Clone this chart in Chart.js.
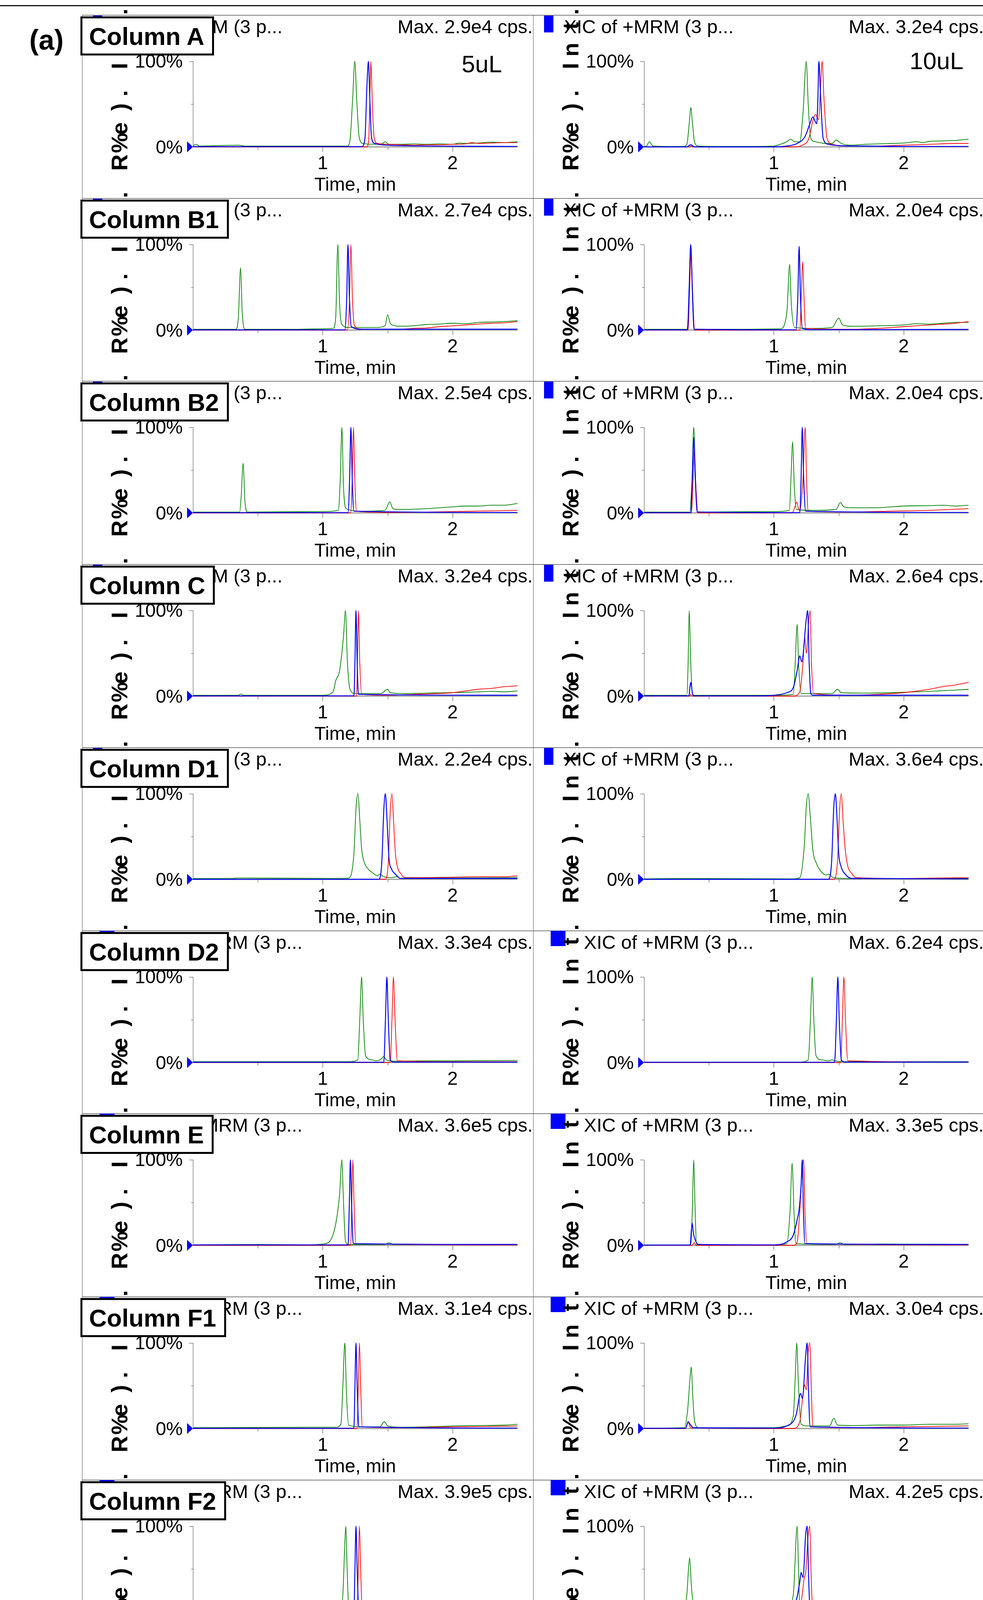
<!DOCTYPE html>
<html>
<head>
<meta charset="utf-8">
<script src="https://cdn.jsdelivr.net/npm/chart.js@4.4.1/dist/chart.umd.min.js"></script>
<style>
html, body { margin: 0; padding: 0; background: #fff; }
body { width: 2517px; height: 5685px; position: relative; overflow: hidden; font-family: "Liberation Sans", Arial, sans-serif; }
.hl { position: absolute; height: 2px; background: #7a7a7a; }
.vl { position: absolute; width: 1px; background: #555; }
.box { position: absolute; left: 206px; height: 100px; box-sizing: border-box; border: 5px solid #000; background: #fff;
       font-weight: bold; font-size: 63px; line-height: 88px; padding: 2px 20px 0 17px; white-space: nowrap; z-index: 5; }
.tag { position: absolute; font-weight: bold; line-height: 1; z-index: 5; }
canvas { position: absolute; }
</style>
</head>
<body>
<div style="position:absolute;left:0;top:13px;width:2517px;height:3px;background:#111"></div>
<script>
// texte des panneaux
const columnNames = ['Column A', 'Column B1', 'Column B2', 'Column C', 'Column D1', 'Column D2',
                     'Column E', 'Column F1', 'Column F2', 'Column F3', 'Column D1', 'Column D2'];
const maxLeft  = ['2.9e4', '2.7e4', '2.5e4', '3.2e4', '2.2e4', '3.3e4', '3.6e5', '3.1e4', '3.9e5', '3.9e5', '7.3e4', '1.3e5'];
const maxRight = ['3.2e4', '2.0e4', '2.0e4', '2.6e4', '3.6e4', '6.2e4', '3.3e5', '3.0e4', '4.2e5', '3.3e5', '2.3e5', '3.6e5'];
const xicTitle = 'XIC of +MRM (3 p...';
const xTicks = [0.5, 1, 1.5, 2];
const xTickLabels = [1, 2];
const yTickLabels = ['0%', '100%'];
const yTitleChars = ['R', '%', 'e', ')', '.', 'I', 'n', 't', '.'];

// chromatogrammes : [temps (min), intensite relative (%)]
const A_L_g = [[0,1],[0.02,3],[0.05,1],[0.35,2],[0.4,1],[1.0,1],[1.19,1],[1.21,8],[1.23,55],[1.247,100],[1.262,55],[1.28,12],[1.31,4],[1.4,3],[1.46,4],[1.48,6],[1.51,3],[1.6,3],[1.7,3.5],[1.8,3],[1.9,3.5],[2.0,3],[2.05,4.5],[2.1,4],[2.2,4.5],[2.3,5.5],[2.4,5],[2.5,6]];
const A_L_b = [[0,0.3],[1.3,0.3],[1.325,10],[1.34,70],[1.352,100],[1.362,60],[1.375,12],[1.4,4],[1.5,2],[1.7,1.2],[2.0,0.8],[2.5,0.5]];
const A_L_r = [[0,0],[1.34,0],[1.355,12],[1.365,70],[1.371,100],[1.38,60],[1.395,12],[1.42,4],[1.5,3],[1.6,2.5],[1.7,2],[1.8,2.5],[1.9,2.5],[2.0,3],[2.1,3.5],[2.15,5],[2.2,4],[2.3,4.5],[2.4,5],[2.5,5]];
const A_R_g = [[0,0.5],[0.02,1],[0.04,6],[0.07,1],[0.3,0.5],[0.33,3],[0.35,30],[0.361,46],[0.372,30],[0.39,5],[0.42,1],[0.7,0.5],[1.0,1],[1.05,3],[1.1,6],[1.13,9],[1.16,6],[1.2,6],[1.225,40],[1.25,100],[1.265,50],[1.285,10],[1.32,6],[1.4,4],[1.45,4],[1.48,8],[1.52,4],[1.6,2],[1.7,3],[1.8,3.5],[1.9,4],[2.0,4.5],[2.1,6],[2.15,5],[2.2,6.5],[2.3,7],[2.4,7.5],[2.5,9]];
const A_R_b = [[0,0],[0.33,0],[0.36,2.5],[0.39,0],[1.0,0],[1.1,1],[1.18,4],[1.24,12],[1.28,28],[1.30,35],[1.33,27],[1.34,60],[1.347,100],[1.36,60],[1.38,10],[1.42,3],[1.5,1.5],[1.7,1],[2.0,0.5],[2.5,0.5]];
const A_R_r = [[0,0],[0.35,0],[0.36,1],[0.38,0],[1.15,0],[1.22,2],[1.27,10],[1.30,30],[1.32,38],[1.345,32],[1.36,70],[1.373,100],[1.385,60],[1.41,10],[1.45,3],[1.6,1],[1.8,1],[2.0,2],[2.2,3],[2.4,4],[2.5,4]];

const B1_L_g = [[0,1],[0.33,1],[0.35,15],[0.367,73],[0.38,20],[0.4,1],[0.8,1],[1.0,1.5],[1.08,2],[1.1,15],[1.116,100],[1.13,30],[1.15,6],[1.2,3],[1.4,3],[1.48,5],[1.5,18],[1.52,8],[1.56,5],[1.6,4.5],[1.7,5],[1.8,6.5],[1.9,7],[2.0,8],[2.1,7.5],[2.2,9],[2.3,9.5],[2.4,10],[2.5,11]];
const B1_L_b = [[0,0.3],[1.17,0.3],[1.185,40],[1.194,100],[1.205,40],[1.22,4],[1.3,1],[2.5,1]];
const B1_L_r = [[0,0],[1.19,0],[1.205,30],[1.217,100],[1.228,40],[1.245,5],[1.3,1],[1.6,1],[1.7,2],[1.8,2.5],[1.9,4],[2.0,5],[2.1,6],[2.2,7],[2.3,8],[2.4,8.5],[2.5,10]];
const B1_R_g = [[0,1],[0.33,1],[0.345,30],[0.36,100],[0.375,30],[0.39,1],[0.8,1],[1.05,1.5],[1.1,20],[1.122,77],[1.135,30],[1.16,3],[1.3,2],[1.45,3],[1.5,14],[1.53,6],[1.6,4.5],[1.8,5],[2.0,6],[2.1,7.5],[2.2,7],[2.3,8],[2.4,9],[2.5,9]];
const B1_R_b = [[0,0.3],[0.335,0.3],[0.348,50],[0.36,100],[0.372,50],[0.385,1],[1.17,0.3],[1.185,40],[1.195,98],[1.205,40],[1.22,2],[1.3,0.5],[2.5,0.8]];
const B1_R_r = [[0,0],[0.34,0],[0.35,40],[0.362,90],[0.375,40],[0.39,0],[1.2,0],[1.212,40],[1.222,80],[1.232,40],[1.245,2],[1.6,1],[1.8,2],[2.0,4],[2.2,6],[2.4,8],[2.5,10]];

const B2_L_g = [[0,1],[0.36,1],[0.372,20],[0.387,58],[0.4,15],[0.42,1],[1.0,1.5],[1.12,3],[1.135,40],[1.147,100],[1.16,30],[1.18,5],[1.3,2],[1.48,3],[1.517,13],[1.54,5],[1.6,4],[1.8,5],[2.0,7],[2.1,8],[2.2,8],[2.3,9],[2.4,9],[2.5,11]];
const B2_L_b = [[0,0.3],[1.195,0.3],[1.207,40],[1.217,100],[1.227,40],[1.24,2],[2.5,0.5]];
const B2_L_r = [[0,0],[1.215,0],[1.227,40],[1.237,100],[1.247,40],[1.26,2],[1.5,0.5],[2.0,1.5],[2.5,3]];
const B2_R_g = [[0,1],[0.35,1],[0.37,40],[0.383,100],[0.397,40],[0.41,1],[1.0,1.5],[1.12,3],[1.132,40],[1.145,83],[1.158,30],[1.175,4],[1.3,3],[1.48,4],[1.513,12],[1.54,7],[1.6,6],[1.8,6],[1.9,7],[2.0,8],[2.2,8.5],[2.3,9],[2.4,8],[2.5,9]];
const B2_R_b = [[0,0.3],[0.36,0.3],[0.372,40],[0.383,88],[0.395,40],[0.41,1],[1.2,0.3],[1.21,40],[1.219,100],[1.23,40],[1.245,2],[2.5,0.5]];
const B2_R_r = [[0,0],[0.365,0],[0.377,35],[0.387,74],[0.4,30],[0.415,0],[1.14,0],[1.165,8],[1.176,13],[1.19,5],[1.2,3],[1.225,40],[1.242,100],[1.252,40],[1.265,2],[1.6,1],[1.9,2],[2.2,3],[2.5,5]];

const C_L_g = [[0,1],[0.35,1],[0.37,2.5],[0.39,1],[1.0,1],[1.08,5],[1.1,18],[1.13,30],[1.16,70],[1.175,100],[1.19,40],[1.21,8],[1.25,3],[1.45,3],[1.498,8],[1.52,4],[1.6,3],[1.8,3.5],[2.0,4],[2.2,5],[2.3,5.5],[2.4,5],[2.5,6]];
const C_L_b = [[0,0.3],[1.24,0.3],[1.248,40],[1.256,100],[1.265,40],[1.275,2],[2.5,1]];
const C_L_r = [[0,0],[1.26,0],[1.267,40],[1.275,100],[1.285,40],[1.3,2],[1.5,1],[1.7,2],[1.9,3],[2.0,4],[2.1,6],[2.2,8],[2.3,9],[2.4,11],[2.5,12]];
const C_R_g = [[0,1],[0.33,1],[0.34,40],[0.348,100],[0.36,40],[0.375,1],[1.0,1],[1.15,2],[1.165,40],[1.18,84],[1.19,40],[1.21,3],[1.45,3],[1.49,8],[1.52,4],[1.7,3.5],[1.9,4],[2.0,4.5],[2.2,5.5],[2.4,7],[2.5,8]];
const C_R_b = [[0,0.3],[0.345,0.3],[0.36,16],[0.375,2],[0.39,0.3],[0.9,0.3],[1.0,1],[1.1,4],[1.15,10],[1.18,30],[1.2,47],[1.215,40],[1.25,90],[1.261,100],[1.272,40],[1.285,3],[1.3,1],[2.5,1]];
const C_R_r = [[0,0],[0.35,0],[0.36,2],[0.37,0],[1.15,0],[1.2,5],[1.225,40],[1.238,69],[1.25,50],[1.27,90],[1.28,100],[1.29,40],[1.305,3],[1.6,1],[1.8,2],[2.0,4],[2.2,8],[2.3,11],[2.4,13],[2.5,16]];

const D1_L_g = [[0,1],[0.3,1],[0.35,1.5],[1.15,1],[1.2,1.5],[1.24,30],[1.257,85],[1.272,100],[1.285,70],[1.3,35],[1.32,20],[1.35,12],[1.39,7],[1.42,4],[1.44,6],[1.47,3],[1.53,2],[1.57,3],[1.6,1],[1.7,1.5],[2.0,1.5],[2.5,2]];
const D1_L_b = [[0,0],[1.43,0],[1.455,20],[1.47,80],[1.482,100],[1.495,70],[1.51,25],[1.53,12],[1.56,6],[1.6,1],[2.5,1]];
const D1_L_r = [[0,0],[1.48,0],[1.505,20],[1.52,80],[1.533,100],[1.545,70],[1.56,30],[1.58,12],[1.6,7],[1.63,2],[1.8,2],[2.0,2.5],[2.2,3],[2.4,3],[2.5,4]];
const D1_R_g = [[0,0.5],[0.3,1],[1.15,0.5],[1.2,2],[1.235,40],[1.25,85],[1.265,100],[1.28,75],[1.3,35],[1.33,18],[1.36,10],[1.4,5],[1.42,6],[1.46,2],[1.55,1],[2.5,1]];
const D1_R_b = [[0,0],[1.42,0],[1.445,20],[1.462,85],[1.474,100],[1.487,70],[1.5,30],[1.52,14],[1.55,6],[1.6,1],[2.5,0.5]];
const D1_R_r = [[0,0],[1.46,0],[1.49,20],[1.508,85],[1.52,100],[1.533,70],[1.55,35],[1.57,15],[1.6,7],[1.63,2],[2.0,1],[2.5,2]];

const D2_L_g = [[0,1],[1.2,1],[1.27,3],[1.285,50],[1.3,100],[1.312,50],[1.33,8],[1.38,3],[1.41,2],[1.45,4],[1.47,7],[1.49,3],[1.55,1.5],[1.8,2],[2.0,2],[2.5,2.5]];
const D2_L_b = [[0,0.3],[1.47,0.3],[1.483,50],[1.494,100],[1.505,50],[1.52,3],[1.55,0.5],[2.5,0.5]];
const D2_L_r = [[0,0],[1.52,0],[1.533,50],[1.545,100],[1.557,50],[1.575,2],[2.0,1],[2.5,1]];
const D2_R_g = [[0,0.5],[1.2,0.5],[1.265,3],[1.282,50],[1.296,100],[1.308,50],[1.325,8],[1.37,3],[1.42,2],[1.45,3],[1.47,2],[1.55,1],[2.5,1]];
const D2_R_b = [[0,0.3],[1.468,0.3],[1.482,50],[1.493,100],[1.504,50],[1.52,3],[1.55,0.5],[2.5,0.5]];
const D2_R_r = [[0,0],[1.515,0],[1.528,50],[1.54,100],[1.552,50],[1.57,2],[2.5,0.5]];

const E_L_g = [[0,0.5],[0.5,1],[0.9,0.5],[1.0,1.5],[1.05,4],[1.1,25],[1.13,60],[1.147,100],[1.16,50],[1.175,5],[1.2,1],[1.48,1],[1.51,3],[1.54,1],[2.5,1]];
const E_L_b = [[0,0.5],[1.195,0.5],[1.205,50],[1.213,100],[1.222,50],[1.235,2],[2.5,1]];
const E_L_r = [[0,0],[1.215,0],[1.224,50],[1.232,100],[1.241,50],[1.255,2],[2.5,0.5]];
const E_R_g = [[0,0.5],[0.36,0.5],[0.372,40],[0.383,100],[0.394,40],[0.405,1],[1.0,0.5],[1.1,2],[1.125,40],[1.141,96],[1.155,40],[1.17,2],[1.48,1],[1.51,3],[1.54,1],[1.83,1.5],[2.5,1]];
const E_R_b = [[0,0.3],[0.355,0.3],[0.365,18],[0.371,26],[0.38,15],[0.395,6],[0.42,1],[1.0,0.5],[1.1,4],[1.15,12],[1.18,30],[1.195,42],[1.21,70],[1.219,100],[1.228,40],[1.24,2],[2.5,1]];
const E_R_r = [[0,0],[0.37,0],[0.387,3],[0.4,0],[1.15,0],[1.18,4],[1.2,40],[1.215,80],[1.23,100],[1.24,40],[1.255,2],[2.5,0.5]];

const F1_L_g = [[0,1],[0.9,1.5],[1.1,1.5],[1.14,5],[1.155,50],[1.17,100],[1.183,40],[1.2,4],[1.3,2],[1.44,2],[1.475,8],[1.5,3],[1.6,1.5],[1.8,2],[2.0,3],[2.2,3.5],[2.4,4],[2.5,5]];
const F1_L_b = [[0,0.3],[1.24,0.3],[1.248,50],[1.256,100],[1.265,50],[1.278,2],[2.5,0.5]];
const F1_L_r = [[0,0],[1.265,0],[1.274,50],[1.283,100],[1.292,50],[1.305,2],[1.6,1],[2.0,2],[2.3,2.5],[2.5,3]];
const F1_R_g = [[0,0.5],[0.31,1],[0.335,20],[0.355,60],[0.364,72],[0.375,40],[0.39,8],[0.42,1],[1.0,1],[1.1,3],[1.15,15],[1.165,60],[1.176,100],[1.19,50],[1.21,5],[1.26,3],[1.43,3],[1.462,12],[1.49,4],[1.6,3.5],[1.8,4],[2.0,4],[2.2,5],[2.4,5],[2.5,5.5]];
const F1_R_b = [[0,0.3],[0.32,0.3],[0.34,8],[0.355,5],[0.38,1],[1.0,0.5],[1.1,3],[1.17,15],[1.207,41],[1.22,35],[1.245,85],[1.257,100],[1.268,40],[1.28,2],[2.5,0.5]];
const F1_R_r = [[0,0],[0.32,0],[0.34,7],[0.36,1],[1.15,0],[1.2,8],[1.225,40],[1.238,51],[1.25,45],[1.265,90],[1.277,100],[1.29,40],[1.3,2],[1.6,1],[2.0,2],[2.5,3]];

const F2_L_g = [[0,0.5],[1.13,0.5],[1.155,20],[1.17,80],[1.178,100],[1.188,50],[1.2,5],[1.22,1],[1.46,1],[1.48,4],[1.5,1],[2.5,1]];
const F2_L_b = [[0,0.5],[1.24,0.5],[1.248,50],[1.256,100],[1.265,50],[1.278,2],[2.5,0.5]];
const F2_L_r = [[0,0],[1.265,0],[1.274,50],[1.283,100],[1.292,50],[1.305,2],[2.5,0.5]];
const F2_R_g = [[0,0.5],[0.3,0.5],[0.33,20],[0.345,55],[0.352,63],[0.365,30],[0.385,5],[0.41,1],[0.9,1],[1.0,1.5],[1.1,3],[1.15,20],[1.18,100],[1.19,50],[1.2,5],[1.25,1],[1.45,1],[1.474,4],[1.5,1],[2.5,0.5]];
const F2_R_b = [[0,0.3],[0.33,0.3],[0.35,3],[0.37,1],[0.4,0.3],[1.0,0.5],[1.1,3],[1.17,12],[1.2,35],[1.21,46],[1.225,40],[1.245,90],[1.257,100],[1.268,40],[1.28,2],[2.5,0.5]];
const F2_R_r = [[0,0],[1.18,0],[1.21,10],[1.235,40],[1.245,45],[1.265,90],[1.277,100],[1.288,40],[1.3,2],[2.5,0.5]];

const F3_L_g = [[0,0.5],[0.35,0.5],[0.37,1.5],[0.39,0.5],[0.95,0.5],[1.0,2],[1.05,5],[1.08,12],[1.1,25],[1.108,60],[1.116,100],[1.125,40],[1.135,5],[1.15,1],[1.42,1],[1.45,3],[1.48,1],[2.5,1]];
const F3_L_b = [[0,0.5],[1.175,0.5],[1.183,50],[1.19,100],[1.198,50],[1.21,2],[2.5,1]];
const F3_L_r = [[0,0],[1.2,0],[1.206,50],[1.213,100],[1.221,50],[1.232,2],[2.5,0.5]];
const F3_R_g = [[0,0.5],[0.3,0.5],[0.32,10],[0.34,65],[0.352,84],[0.362,40],[0.38,5],[0.4,0.5],[1.0,0.5],[1.07,2],[1.095,30],[1.114,100],[1.125,40],[1.14,3],[1.2,0.5],[1.42,1],[1.45,3],[1.48,1],[2.5,1]];
const F3_R_b = [[0,0.3],[0.3,0.3],[0.315,10],[0.33,25],[0.345,15],[0.36,5],[0.38,1],[1.0,0.5],[1.07,4],[1.12,15],[1.153,38],[1.165,30],[1.19,80],[1.2,100],[1.21,40],[1.22,2],[2.5,0.5]];
const F3_R_r = [[0,0],[0.315,0],[0.337,10],[0.36,1],[1.1,0],[1.15,10],[1.17,30],[1.19,55],[1.207,100],[1.217,40],[1.228,2],[2.5,0.5]];

const bD1_L_g = [[0,0.5],[0.3,0.5],[0.35,1],[1.17,0.5],[1.21,5],[1.23,50],[1.247,100],[1.262,55],[1.28,18],[1.31,8],[1.33,5],[1.4,2],[1.43,2.5],[1.5,1],[1.56,0.5],[2.5,0.5]];
const bD1_L_b = [[0,0.3],[1.4,0.3],[1.43,20],[1.447,80],[1.459,100],[1.472,60],[1.49,20],[1.51,8],[1.54,3],[1.57,0.5],[2.5,0.5]];
const bD1_L_r = [[0,0],[1.45,0],[1.48,20],[1.497,80],[1.509,100],[1.522,60],[1.54,20],[1.56,8],[1.59,3],[1.62,0.5],[2.5,0.5]];
const bD1_R_g = [[0,0],[0.28,0],[0.31,2],[0.34,0],[1.2,0],[1.222,20],[1.237,80],[1.247,100],[1.258,60],[1.275,15],[1.3,5],[1.35,2],[1.45,1],[1.5,0.5],[2.5,0.3]];
const bD1_R_b = [[0,0.3],[1.41,0.3],[1.432,30],[1.447,90],[1.457,100],[1.468,60],[1.485,20],[1.505,6],[1.53,1],[2.5,0.3]];
const bD1_R_r = [[0,0],[1.46,0],[1.485,25],[1.5,90],[1.511,100],[1.522,60],[1.54,20],[1.56,6],[1.585,1],[2.5,0]];

const bD2_L_g = [[0,0],[1.25,0],[1.268,40],[1.282,100],[1.293,40],[1.31,4],[1.35,1],[1.45,1],[1.6,0.5],[2.5,1]];
const bD2_L_b = [[0,0.3],[1.455,0.3],[1.463,50],[1.471,100],[1.479,50],[1.49,2],[2.5,0.5]];
const bD2_L_r = [[0,0],[1.508,0],[1.516,50],[1.524,100],[1.532,50],[1.545,2],[2.5,0.5]];
const bD2_R_g = [[0,0],[0.28,0],[0.3,1],[0.32,0],[1.25,0],[1.266,40],[1.28,100],[1.291,40],[1.308,4],[1.35,1],[1.45,0.5],[2.5,0.5]];
const bD2_R_b = [[0,0.3],[1.46,0.3],[1.468,50],[1.476,100],[1.484,50],[1.495,2],[2.5,0.5]];
const bD2_R_r = [[0,0],[1.513,0],[1.521,50],[1.53,100],[1.538,50],[1.55,2],[2.5,0.5]];

// disposition
const rowTop = [39, 508, 976, 1445, 1914, 2383, 2851, 3320, 3789, 4258, 4765, 5233];
const panelLeft = [210, 1365];
const PW = 1155, PH = 488, OFF = 20;
const FONT = '"Liberation Sans", Arial, sans-serif';

const traces = [
  [A_L_g, A_L_b, A_L_r, A_R_g, A_R_b, A_R_r],
  [B1_L_g, B1_L_b, B1_L_r, B1_R_g, B1_R_b, B1_R_r],
  [B2_L_g, B2_L_b, B2_L_r, B2_R_g, B2_R_b, B2_R_r],
  [C_L_g, C_L_b, C_L_r, C_R_g, C_R_b, C_R_r],
  [D1_L_g, D1_L_b, D1_L_r, D1_R_g, D1_R_b, D1_R_r],
  [D2_L_g, D2_L_b, D2_L_r, D2_R_g, D2_R_b, D2_R_r],
  [E_L_g, E_L_b, E_L_r, E_R_g, E_R_b, E_R_r],
  [F1_L_g, F1_L_b, F1_L_r, F1_R_g, F1_R_b, F1_R_r],
  [F2_L_g, F2_L_b, F2_L_r, F2_R_g, F2_R_b, F2_R_r],
  [F3_L_g, F3_L_b, F3_L_r, F3_R_g, F3_R_b, F3_R_r],
  [bD1_L_g, bD1_L_b, bD1_L_r, bD1_R_g, bD1_R_b, bD1_R_r],
  [bD2_L_g, bD2_L_b, bD2_L_r, bD2_R_g, bD2_R_b, bD2_R_r]
];

// etiquettes de volume : [rang, cote, texte, x, ligne de base, gras]
const volumes = [
  [0, 0, '5uL', 972, 146, false], [0, 1, '10uL', 964, 138, false],
  [10, 0, '20uL', 885, 137, true], [10, 1, '50uL', 915, 137, true],
  [11, 0, '20uL', 898, 146, true], [11, 1, '50uL', 930, 134, true]
];
const yTitleOffsets = [377, 327, 290, 235, 200, 130, 88, 27, -9];

function addDiv(cls, css, html) {
  const d = document.createElement('div');
  d.className = cls;
  d.style.cssText = css;
  if (html) d.textContent = html;
  document.body.appendChild(d);
  return d;
}

// lignes du cadre
for (let i = 0; i < 12; i++) addDiv('hl', `left:210px;top:${rowTop[i] - 1}px;width:2310px`);
addDiv('hl', 'left:210px;top:4732px;width:2310px');
addDiv('vl', 'left:210px;top:39px;height:4694px');
addDiv('vl', 'left:1365px;top:39px;height:4694px');
addDiv('vl', 'left:210px;top:4765px;height:920px');
addDiv('vl', 'left:1365px;top:4765px;height:920px');

function decoPlugin(row, side) {
  const wide = row >= 5;
  const vol = volumes.find(v => v[0] === row && v[1] === side);
  return {
    id: 'deco' + row + side,
    beforeDatasetsDraw(chart) {
      const ctx = chart.ctx, xs = chart.scales.x, ys = chart.scales.y;
      const x0 = xs.getPixelForValue(0), x1 = xs.getPixelForValue(2.5);
      const y0 = ys.getPixelForValue(0), y100 = ys.getPixelForValue(100), y50 = ys.getPixelForValue(50);
      ctx.save();
      ctx.strokeStyle = '#9a9a9a'; ctx.lineWidth = 3;
      ctx.beginPath(); ctx.moveTo(x0, y0); ctx.lineTo(x1, y0); ctx.stroke();
      ctx.strokeStyle = '#444'; ctx.lineWidth = 1;
      ctx.beginPath(); ctx.moveTo(x0 + 0.5, y100); ctx.lineTo(x0 + 0.5, y0); ctx.stroke();
      ctx.beginPath(); ctx.moveTo(x0 - 10, y100 + 0.5); ctx.lineTo(x0, y100 + 0.5); ctx.stroke();
      ctx.beginPath(); ctx.moveTo(x0 - 5, y50 + 0.5); ctx.lineTo(x0, y50 + 0.5); ctx.stroke();
      xTicks.forEach(t => {
        const px = Math.round(xs.getPixelForValue(t)) + 0.5;
        const len = Number.isInteger(t) ? 13 : 8;
        ctx.beginPath(); ctx.moveTo(px, y0 + 1); ctx.lineTo(px, y0 + len); ctx.stroke();
      });
      ctx.restore();
    },
    afterDatasetsDraw(chart) {
      const ctx = chart.ctx, xs = chart.scales.x, ys = chart.scales.y;
      const x0 = xs.getPixelForValue(0);
      const y0 = ys.getPixelForValue(0), y100 = ys.getPixelForValue(100);
      ctx.save();
      // marqueur bleu
      ctx.fillStyle = '#0000ff';
      ctx.beginPath(); ctx.moveTo(x0 - 15, y0 - 14); ctx.lineTo(x0, y0); ctx.lineTo(x0 - 15, y0 + 14); ctx.closePath(); ctx.fill();
      if (wide) ctx.fillRect(45, OFF, 38, 39); else ctx.fillRect(28, OFF + 1, 24, 43);
      ctx.fillStyle = '#000';
      ctx.font = '48px ' + FONT;
      ctx.textBaseline = 'alphabetic';
      ctx.textAlign = 'right';
      ctx.fillText(yTickLabels[1], x0 - 26, y100 + 16);
      ctx.fillText(yTickLabels[0], x0 - 26, y0 + 17);
      ctx.textAlign = 'center';
      xTickLabels.forEach(t => ctx.fillText(String(t), xs.getPixelForValue(t), y0 + 57));
      ctx.fillText('Time, min', (chart.chartArea.left + chart.chartArea.right) / 2, y0 + 112);
      // en-tete
      ctx.font = '49px ' + FONT;
      ctx.textAlign = 'left';
      ctx.fillText(xicTitle, wide ? 130 : 79, OFF + 46);
      ctx.textAlign = 'right';
      ctx.fillText('Max. ' + (side ? maxRight[row] : maxLeft[row]) + ' cps.', PW - 1, OFF + 46);
      // titre vertical
      ctx.font = 'bold 58px ' + FONT;
      ctx.textAlign = 'center';
      ctx.textBaseline = 'middle';
      yTitleChars.forEach((ch, i) => {
        ctx.save();
        ctx.translate(100, OFF + yTitleOffsets[i]);
        ctx.rotate(-Math.PI / 2);
        ctx.fillText(ch, 0, 0);
        ctx.restore();
      });
      if (vol) {
        ctx.font = (vol[5] ? 'bold 64px ' : '62px ') + FONT;
        ctx.textAlign = 'left';
        ctx.textBaseline = 'alphabetic';
        ctx.fillText(vol[2], vol[3], OFF + vol[4]);
      }
      ctx.restore();
    }
  };
}

function makePanel(row, side) {
  const set = traces[row];
  const g = set[side * 3], b = set[side * 3 + 1], r = set[side * 3 + 2];
  const cv = document.createElement('canvas');
  cv.width = PW; cv.height = PH;
  cv.style.left = panelLeft[side] + 'px';
  cv.style.top = (rowTop[row] - OFF) + 'px';
  document.body.appendChild(cv);
  new Chart(cv, {
    type: 'line',
    data: {
      datasets: [
        { data: b, borderColor: '#0000ff', borderWidth: 2.4 },
        { data: r, borderColor: '#ff0000', borderWidth: 1.8 },
        { data: g, borderColor: '#008000', borderWidth: 1.8 }
      ]
    },
    options: {
      responsive: false,
      animation: false,
      devicePixelRatio: 1,
      layout: { padding: { left: 284, right: 40, top: 138, bottom: 131 } },
      elements: { point: { radius: 0 }, line: { cubicInterpolationMode: 'monotone', fill: false } },
      datasets: { line: { clip: false } },
      scales: {
        x: { type: 'linear', min: 0, max: 2.5, display: false },
        y: { min: 0, max: 100, display: false }
      },
      plugins: { legend: { display: false }, tooltip: { enabled: false } }
    },
    plugins: [decoPlugin(row, side)]
  });
}

for (let row = 0; row < 12; row++) {
  makePanel(row, 0);
  makePanel(row, 1);
}

// boites "Column"
for (let row = 0; row < 12; row++) {
  addDiv('box', `top:${rowTop[row] + 3}px`, columnNames[row]);
}
addDiv('tag', 'left:75px;top:66px;font-size:72px', '(a)');
addDiv('tag', 'left:58px;top:4790px;font-size:74px', '(b)');
</script>
</body>
</html>
